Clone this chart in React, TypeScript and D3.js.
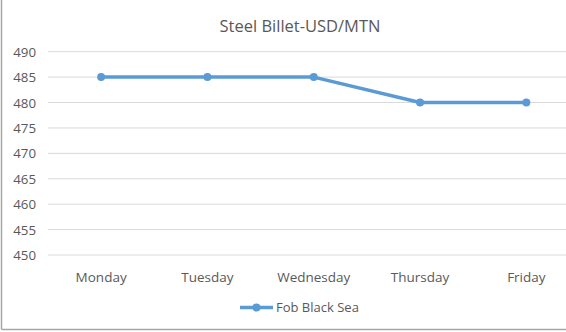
import React from "react";
import * as d3 from "d3";

const days = ["Monday", "Tuesday", "Wednesday", "Thursday", "Friday"];
const fobBlackSea = [485, 485, 485, 480, 480];
const yTicks = [450, 455, 460, 465, 470, 475, 480, 485, 490];
const title = "Steel Billet-USD/MTN";
const seriesName = "Fob Black Sea";

const W = 566;
const H = 332;
const FONT = "'Open Sans', 'Noto Sans', sans-serif";
const BLUE = "#5B9BD5";
const TXT = "#595959";

export default function App() {
  const x = d3.scaleBand<string>().domain(days).range([48, 579.5]).padding(0);
  const y = d3.scaleLinear().domain([450, 490]).range([255, 51.7]);
  const cx = (d: string) => (x(d) as number) + x.bandwidth() / 2;
  const line = d3
    .line<number>()
    .x((_, i) => cx(days[i]))
    .y((v) => y(v));

  return (
    <svg
      width={W}
      height={H}
      style={{ position: "fixed", left: 0, top: 0, background: "#fff" }}
      fontFamily={FONT}
    >
      <rect x={0} y={0} width={W} height={H} fill="#fff" />
      {/* border (partially cropped) */}
      <line x1={1.5} y1={0} x2={1.5} y2={329.5} stroke="#a6a6a6" strokeWidth={1.5} />
      <line x1={1.5} y1={329.5} x2={W} y2={329.5} stroke="#a6a6a6" strokeWidth={1.5} />
      <text x={300} y={25} textAnchor="middle" dominantBaseline="central" fontSize={16.5} fill={TXT}>
        {title}
      </text>
      {yTicks.map((t) => (
        <g key={t}>
          <line x1={48} x2={580} y1={y(t)} y2={y(t)} stroke="#d9d9d9" strokeWidth={1} />
          <text x={36} y={y(t)} textAnchor="end" dominantBaseline="central" fontSize={13.3} fill={TXT}>
            {t}
          </text>
        </g>
      ))}
      {days.map((d) => (
        <text key={d} x={cx(d)} y={277} textAnchor="middle" dominantBaseline="central" fontSize={13.5} fill={TXT}>
          {d}
        </text>
      ))}
      <path d={line(fobBlackSea) || ""} fill="none" stroke={BLUE} strokeWidth={3.5} strokeLinejoin="round" />
      {fobBlackSea.map((v, i) => (
        <circle key={i} cx={cx(days[i])} cy={y(v)} r={4} fill={BLUE} />
      ))}
      <line x1={240} x2={273} y1={307.5} y2={307.5} stroke={BLUE} strokeWidth={3.5} />
      <circle cx={256.5} cy={307.5} r={4} fill={BLUE} />
      <text x={276} y={307} dominantBaseline="central" fontSize={13} fill={TXT}>
        {seriesName}
      </text>
    </svg>
  );
}
